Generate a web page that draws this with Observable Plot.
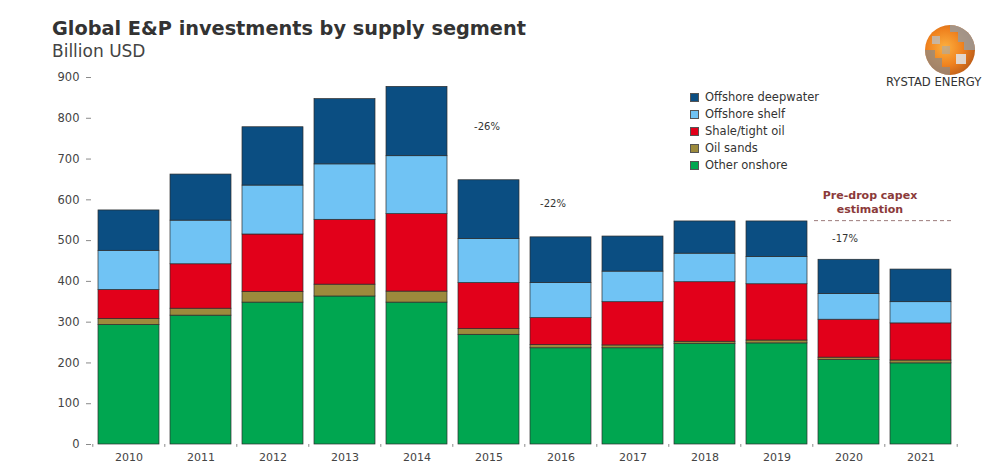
<!DOCTYPE html>
<html>
<head>
<meta charset="utf-8">
<script src="https://cdn.jsdelivr.net/npm/d3@7"></script>
<script src="https://cdn.jsdelivr.net/npm/@observablehq/plot@0.6"></script>
<style>
  html, body { margin: 0; padding: 0; background: #fff; }
  #wrap { position: relative; width: 993px; height: 464px; overflow: hidden; font-family: "DejaVu Sans", sans-serif; }
  #header { height: 60px; position: relative; }
  #title { position: absolute; left: 52px; top: 17px; font-size: 19.3px; font-weight: bold; color: #333; white-space: nowrap; }
  #subtitle { position: absolute; left: 52px; top: 41px; font-size: 17px; color: #444; white-space: nowrap; }
  #legend { position: absolute; left: 690px; top: 89px; font-size: 11.5px; color: #333; }
  .li { height: 16.9px; display: flex; align-items: center; white-space: nowrap; }
  .sw { width: 7px; height: 7px; border: 1px solid #555; margin-right: 6px; }
  #logo { position: absolute; left: 880px; top: 20px; }
  #brand { position: absolute; left: 886px; top: 75px; font-size: 11.6px; color: #333; white-space: nowrap; }
  #chart svg { display: block; }
</style>
</head>
<body>
<div id="wrap">
  <div id="header">
    <div id="title">Global E&amp;P investments by supply segment</div>
    <div id="subtitle">Billion USD</div>
  </div>
  <div id="chart"></div>
  <div id="legend"></div>
  <svg id="logo" width="100" height="60" viewBox="0 0 100 60">
    <defs>
      <radialGradient id="g1" cx="40%" cy="45%" r="65%">
        <stop offset="0%" stop-color="#fbb040"/>
        <stop offset="55%" stop-color="#f0821e"/>
        <stop offset="100%" stop-color="#b85a18"/>
      </radialGradient>
    </defs>
    <circle cx="70" cy="30" r="25" fill="url(#g1)"/>
    <path d="M70 5 A25 25 0 0 1 95 30 L84 30 L84 22 L78 22 L78 12 L70 12 Z" fill="#9a9a9a" opacity="0.85"/>
    <path d="M70 55 A25 25 0 0 1 45 30 L55 30 L55 38 L62 38 L62 47 L70 47 Z" fill="#8a8a8a" opacity="0.7"/>
    <path d="M76 34 L86 34 L86 44 L76 44 Z" fill="#e0e0e0" opacity="0.9"/>
    <path d="M52 16 L60 16 L60 24 L52 24 Z" fill="#bdbdbd" opacity="0.8"/>
    <path d="M62 26 L70 26 L70 34 L62 34 Z" fill="#a8a8a8" opacity="0.6"/>
  </svg>
  <div id="brand">RYSTAD ENERGY</div>
</div>
<script>
const years = ["2010","2011","2012","2013","2014","2015","2016","2017","2018","2019","2020","2021"];
const otherOnshore = [293, 316, 348, 363, 348, 269, 236, 236, 247, 248, 207, 199];
const oilSands     = [15, 17, 26, 29, 27, 14, 8, 7, 5, 7, 6, 7];
const shaleTight   = [71, 109, 141, 159, 190, 113, 66, 106, 146, 138, 93, 91];
const offshoreShelf = [96, 107, 120, 136, 142, 108, 86, 75, 70, 67, 63, 52];
const offshoreDeep = [99, 113, 143, 160, 170, 144, 112, 86, 79, 87, 84, 80];

const segments = ["Other onshore", "Oil sands", "Shale/tight oil", "Offshore shelf", "Offshore deepwater"];
const segmentColors = ["#00a650", "#9c8a3c", "#e2001a", "#70c3f4", "#0b4e82"];
const yTicks = [0, 100, 200, 300, 400, 500, 600, 700, 800, 900];

const changeLabels = ["-26%", "-22%", "-17%"];
const changeYears = ["2015", "2016", "2020"];
const changeY = [780, 591, 505];
const changeDx = [-2, -8, -4];

const preDropValue = 549;
const preDropLabel = "Pre-drop capex\nestimation";

const seriesValues = [otherOnshore, oilSands, shaleTight, offshoreShelf, offshoreDeep];
const table = [];
segments.forEach((s, si) => {
  years.forEach((yr, i) => table.push({year: yr, segment: s, value: seriesValues[si][i]}));
});
const noteMarks = changeLabels.map((t, i) =>
  Plot.text([{label: t, year: changeYears[i], y: changeY[i]}], {x: "year", y: "y", text: "label", dx: changeDx[i], fill: "#333", fontSize: 10})
);

const chart = Plot.plot({
  width: 993,
  height: 404,
  marginLeft: 91,
  marginRight: 35,
  marginTop: 17,
  marginBottom: 20,
  style: {fontFamily: "DejaVu Sans, sans-serif", background: "white", overflow: "visible"},
  x: {domain: years, paddingInner: 0.15, paddingOuter: 0.07, label: null},
  y: {domain: [0, 900], label: null},
  color: {domain: segments, range: segmentColors},
  marks: [
    Plot.barY(table, {x: "year", y: "value", fill: "segment", stroke: "#2b2b2b", strokeWidth: 0.7}),
    Plot.axisY({ticks: yTicks, tickSize: 5, tickPadding: 7, line: true, stroke: "#8a8a8a", fill: "#444", fontSize: 11.5, label: null}),
    Plot.axisX({tickSize: 0, tickPadding: 9, line: true, stroke: "#8a8a8a", fill: "#444", fontSize: 11, label: null}),
    Plot.ruleX(years, {x: d => d, y1: 0, y2: -7, dx: -36.2, stroke: "#8a8a8a"}),
    Plot.ruleX([years[years.length - 1]], {x: d => d, y1: 0, y2: -7, dx: 36.2, stroke: "#8a8a8a"}),
    Plot.ruleY([preDropValue], {x1: () => "2020", x2: () => "2021", y: d => d, stroke: "#9c7c7c", strokeDasharray: "4,3", strokeWidth: 1, insetLeft: -4, insetRight: 0}),
    Plot.text([preDropLabel], {x: () => "2020", y: () => 596, text: d => d, dx: 21, fill: "#8b3a3a", fontWeight: "bold", fontSize: 11, lineHeight: 1.25}),
    ...noteMarks
  ]
});
document.getElementById("chart").appendChild(chart);

const legendOrder = ["Offshore deepwater", "Offshore shelf", "Shale/tight oil", "Oil sands", "Other onshore"];
const legend = document.getElementById("legend");
legendOrder.forEach(s => {
  const row = document.createElement("div");
  row.className = "li";
  const sw = document.createElement("span");
  sw.className = "sw";
  sw.style.background = segmentColors[segments.indexOf(s)];
  const tx = document.createElement("span");
  tx.textContent = s;
  row.appendChild(sw);
  row.appendChild(tx);
  legend.appendChild(row);
});
</script>
</body>
</html>
